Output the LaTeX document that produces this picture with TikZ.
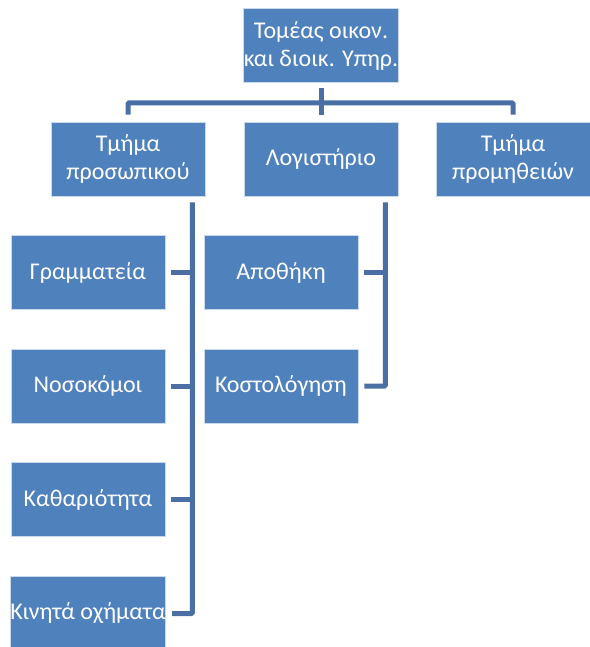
\documentclass[tikz,border=0pt]{standalone}
\usepackage{fontspec}
\setmainfont{Carlito}
\definecolor{boxblue}{HTML}{4F81BD}
\definecolor{lineblue}{HTML}{4A6FA5}
\begin{document}
\begin{tikzpicture}[x=1pt, y=-1pt]
	\tikzstyle{unit} = [rectangle, minimum width=154pt, minimum height=74pt, inner sep=0pt, draw=white!70!boxblue, line width=0.6pt, fill=boxblue, text=white, align=center, font=\fontsize{24}{28}\selectfont]
	\tikzstyle{link} = [draw=lineblue, line width=5pt]

	\useasboundingbox (0,0) rectangle (589,647);

	\node[unit] (top) at (321, 45.5) {Τομέας οικον.\\και διοικ. Υπηρ.};

	\foreach \name/\x/\label in {prosop/128/{Τμήμα\\προσωπικού}, logist/321/Λογιστήριο, promith/513/{Τμήμα\\προμηθειών}}
		\node[unit] (\name) at (\x, 159) {\label};

	\foreach \name/\y/\label in {gram/272.5/Γραμματεία, nosok/386/Νοσοκόμοι, kathar/499.5/Καθαριότητα, kinita/613.5/Κινητά οχήματα}
		\node[unit] (\name) at (88, \y) {\label};

	\foreach \name/\y/\label in {apoth/272.5/Αποθήκη, kostol/386/Κοστολόγηση}
		\node[unit] (\name) at (281, \y) {\label};

	% top level
	\draw[link] ([yshift=-5pt]top.south) -- ([yshift=7pt]logist.north);
	\draw[link, rounded corners=1pt] ([yshift=7pt]prosop.north) |- ([yshift=-20pt]top.south) -| ([yshift=7pt]promith.north);

	% trunks
	\coordinate (ptrunk) at ([xshift=-13pt, yshift=-6pt]prosop.south east);
	\coordinate (ltrunk) at ([xshift=-13pt, yshift=-6pt]logist.south east);

	\draw[link, rounded corners=1pt] (ptrunk) |- ([xshift=6pt]kinita.east);
	\foreach \n in {gram, nosok, kathar}
		\draw[link] ([xshift=6pt]\n.east) -- (\n.east -| ptrunk);

	\draw[link, rounded corners=1pt] (ltrunk) |- ([xshift=6pt]kostol.east);
	\draw[link] ([xshift=6pt]apoth.east) -- (apoth.east -| ltrunk);
\end{tikzpicture}
\end{document}
